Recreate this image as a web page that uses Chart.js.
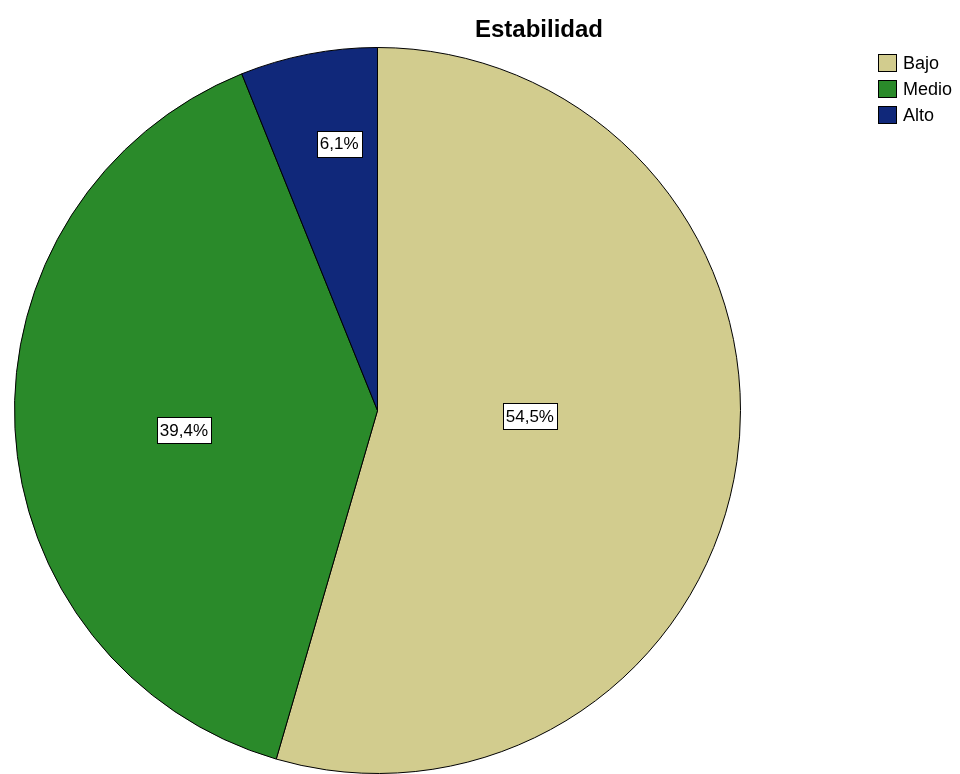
<!DOCTYPE html>
<html>
<head>
<meta charset="utf-8">
<script src="https://cdn.jsdelivr.net/npm/chart.js@4/dist/chart.umd.min.js"></script>
<style>
  body { margin: 0; background: #fff; }
  #wrap { position: relative; width: 960px; height: 774px; overflow: hidden; }
  #title { position: absolute; left: 439px; width: 200px; top: 15px; text-align: center;
           font: bold 24px "Liberation Sans", Arial, sans-serif; color: #000; }
  #legend { position: absolute; left: 878px; top: 50px; font: 18px "Liberation Sans", Arial, sans-serif; color: #000; }
  .item { display: flex; align-items: center; height: 26px; }
  .sw { width: 17px; height: 16px; border: 1px solid #000; margin-right: 6px; box-sizing: content-box; }
</style>
</head>
<body>
<div id="wrap">
  <canvas id="myChart" width="960" height="774"></canvas>
  <div id="title">Estabilidad</div>
  <div id="legend"></div>
</div>
<script>
// datos del grafico
const categorias = ['Bajo', 'Medio', 'Alto'];
const porcentajes = [54.5, 39.4, 6.1];
const colores = ['#d2cc8e', '#2a8a2a', '#10287a'];

// donde va cada etiqueta: fraccion del radio y giro (grados) respecto al centro del sector
const etiquetaRadio = [0.42, 0.536, 0.743];
const etiquetaGiro = [-6, -2.9, 2.8];

const legend = document.getElementById('legend');
categorias.forEach((c, i) => {
    legend.innerHTML += `<div class="item"><span class="sw" style="background:${colores[i]}"></span>${c}</div>`;
});

const etiquetas = {
    id: 'etiquetas',
    afterDatasetsDraw(chart) {
        const ctx = chart.ctx;
        const meta = chart.getDatasetMeta(0);
        ctx.save();
        ctx.font = '17px "Liberation Sans", Arial, sans-serif';
        ctx.textAlign = 'center';
        ctx.textBaseline = 'middle';
        meta.data.forEach((arc, i) => {
            const p = arc.getProps(['x', 'y', 'startAngle', 'endAngle', 'outerRadius'], true);
            const ang = (p.startAngle + p.endAngle) / 2 + etiquetaGiro[i] * Math.PI / 180;
            const r = p.outerRadius * etiquetaRadio[i];
            const cx = p.x + r * Math.cos(ang);
            const cy = p.y + r * Math.sin(ang);
            const txt = porcentajes[i].toFixed(1).replace('.', ',') + '%';
            const w = ctx.measureText(txt).width + 6;
            const h = 26;
            ctx.fillStyle = '#fff';
            ctx.fillRect(Math.round(cx - w / 2) + 0.5, Math.round(cy - h / 2) + 0.5, Math.round(w), h);
            ctx.strokeStyle = '#000';
            ctx.lineWidth = 1;
            ctx.strokeRect(Math.round(cx - w / 2) + 0.5, Math.round(cy - h / 2) + 0.5, Math.round(w), h);
            ctx.fillStyle = '#000';
            ctx.fillText(txt, cx, cy + 1);
        });
        ctx.restore();
    }
};

new Chart(document.getElementById('myChart'), {
    type: 'pie',
    data: {
        labels: categorias,
        datasets: [{
            data: porcentajes,
            backgroundColor: colores,
            borderColor: '#000',
            borderWidth: 1
        }]
    },
    options: {
        responsive: false,
        animation: false,
        layout: { padding: { left: 0, right: 205, top: 47, bottom: 0 } },
        plugins: {
            legend: { display: false },
            title: { display: false },
            tooltip: { enabled: false }
        }
    },
    plugins: [etiquetas]
});
</script>
</body>
</html>
